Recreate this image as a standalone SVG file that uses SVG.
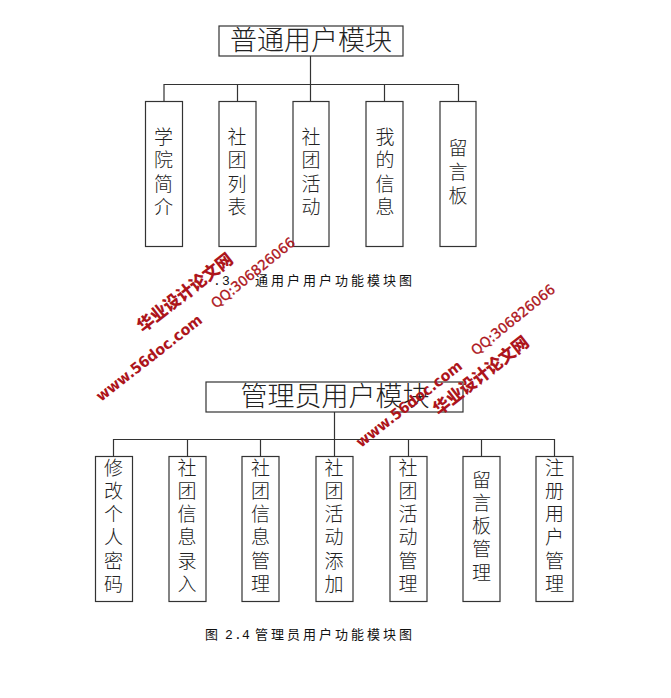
<svg xmlns="http://www.w3.org/2000/svg" width="671" height="698" viewBox="0 0 671 698">
<style>
.b{fill:#fff;stroke:#333;stroke-width:1.2}
.c{fill:none;stroke:#333;stroke-width:1.2}
.t{font-family:"Noto Sans CJK SC","Liberation Serif",sans-serif;font-weight:300;fill:#222;text-anchor:middle}
.l{font-size:19px}
.h{font-size:27px}
.cap{font-family:"Noto Sans CJK SC",sans-serif;font-size:13px;fill:#111}
.num{font-family:"Liberation Mono","Noto Sans CJK SC",monospace;font-size:13px;fill:#111}
.w{fill:#ad151b;font-weight:700}
.wc{font-family:"Noto Sans CJK SC",sans-serif;font-size:17px;font-weight:900}
.wu{font-family:"DejaVu Sans",sans-serif;font-size:15px}
.wq{font-family:"DejaVu Sans",sans-serif;font-size:14px;font-weight:400;stroke:#ad151b;stroke-width:.3}
</style>
<rect width="671" height="698" fill="#fff"/>
<g id="connectors">
<path class="c" d="M310.500 56V84M164 84.500H458.500M164 84V101M237.500 84V101M310.500 84V101M384.500 84V101M458.500 84V101"/>
<path class="c" d="M334.500 412V439M113 439.500H555M113.500 439V456M187.500 439V456M260.500 439V456M334.500 439V456M408.500 439V456M481.500 439V456M554.500 439V456"/>
</g>
<g id="top-root"><rect class="b" x="219" y="26" width="184" height="30"/><text class="t h" x="311" y="50">普通用户模块</text></g>
<g id="n1"><rect class="b" x="145.500" y="101.500" width="37" height="145"/><text class="t l" x="163.500 163.500 163.500 163.500" y="144 167 191 214">学院简介</text></g>
<g id="n2"><rect class="b" x="219" y="101.500" width="37" height="145"/><text class="t l" x="237 237 237 237" y="144 167 191 214">社团列表</text></g>
<g id="n3"><rect class="b" x="293" y="101.500" width="36" height="145"/><text class="t l" x="311 311 311 311" y="144 167 191 214">社团活动</text></g>
<g id="n4"><rect class="b" x="366" y="101.500" width="37" height="145"/><text class="t l" x="385 385 385 385" y="144 167 191 214">我的信息</text></g>
<g id="n5"><rect class="b" x="440" y="101.500" width="36" height="145"/><text class="t l" x="458 458 458" y="155 179 203">留言板</text></g>
<g id="caption1"><text class="num" x="213 222" y="285">.3</text><text class="cap" x="255 271 287 303 319 335 351 367 383 399" y="285">通用户用户功能模块图</text></g>
<g id="admin-root"><rect class="b" x="206" y="382" width="257" height="30"/><text class="t h" x="335" y="406">管理员用户模块</text></g>
<g id="m1"><rect class="b" x="95.500" y="456.500" width="37" height="145"/><text class="t l" x="113.500 113.500 113.500 113.500 113.500 113.500" y="475 498 521 544 568 591">修改个人密码</text></g>
<g id="m2"><rect class="b" x="169" y="456.500" width="37" height="145"/><text class="t l" x="187 187 187 187 187 187" y="475 498 521 544 568 591">社团信息录入</text></g>
<g id="m3"><rect class="b" x="242" y="456.500" width="37" height="145"/><text class="t l" x="260.500 260.500 260.500 260.500 260.500 260.500" y="475 498 521 544 568 591">社团信息管理</text></g>
<g id="m4"><rect class="b" x="316" y="456.500" width="37" height="145"/><text class="t l" x="334 334 334 334 334 334" y="475 498 521 544 568 591">社团活动添加</text></g>
<g id="m5"><rect class="b" x="390" y="456.500" width="37" height="145"/><text class="t l" x="408 408 408 408 408 408" y="475 498 521 544 568 591">社团活动管理</text></g>
<g id="m6"><rect class="b" x="463" y="456.500" width="37" height="145"/><text class="t l" x="481.500 481.500 481.500 481.500 481.500" y="487 510 533 556 580">留言板管理</text></g>
<g id="m7"><rect class="b" x="536" y="456.500" width="37" height="145"/><text class="t l" x="554.500 554.500 554.500 554.500 554.500 554.500" y="475 498 521 544 568 591">注册用户管理</text></g>
<g id="caption2"><text class="cap" x="205" y="639">图</text><text class="num" x="225 234 242" y="639">2.4</text><text class="cap" x="255 271 287 303 319 335 351 367 383 399" y="639">管理员用户功能模块图</text></g>
<g id="watermark">
<text class="w wc" transform="translate(143 333) rotate(-38)" textLength="116" lengthAdjust="spacingAndGlyphs">华业设计论文网</text>
<text class="w wu" transform="translate(101 402) rotate(-38)" textLength="130" lengthAdjust="spacingAndGlyphs">www.56doc.com</text>
<text class="w wq" transform="translate(216 309) rotate(-39)" textLength="103" lengthAdjust="spacingAndGlyphs">QQ:306826066</text>
<text class="w wc" transform="translate(439 416) rotate(-38)" textLength="116" lengthAdjust="spacingAndGlyphs">华业设计论文网</text>
<text class="w wu" transform="translate(361 448) rotate(-38)" textLength="130" lengthAdjust="spacingAndGlyphs">www.56doc.com</text>
<text class="w wq" transform="translate(476 356) rotate(-39)" textLength="103" lengthAdjust="spacingAndGlyphs">QQ:306826066</text>
</g>
</svg>
